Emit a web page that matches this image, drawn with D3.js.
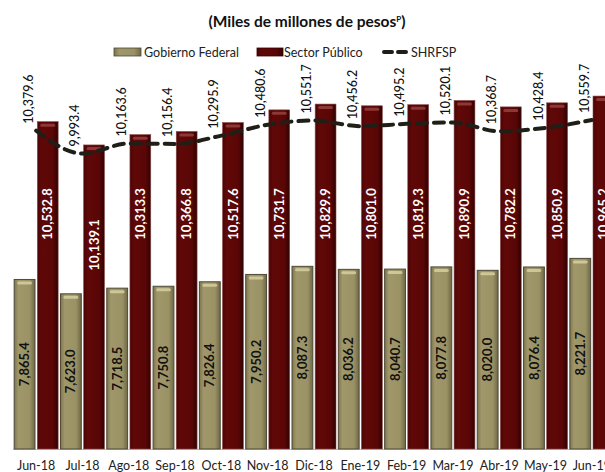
<!doctype HTML>
<html>
<head>
    <script src="https://d3js.org/d3.v7.min.js"></script>
    <style>
        body { margin: 0; background: #fff; }
        text { font-family: "Lato", "DejaVu Sans", sans-serif; }
    </style>
</head>
<body>
<script>
    var canvasWidth = 605;
    var canvasHeight = 472;

    var months = ["Jun-18", "Jul-18", "Ago-18", "Sep-18", "Oct-18", "Nov-18", "Dic-18",
                  "Ene-19", "Feb-19", "Mar-19", "Abr-19", "May-19", "Jun-19"];
    var gobierno = [7865.4, 7623.0, 7718.5, 7750.8, 7826.4, 7950.2, 8087.3,
                    8036.2, 8040.7, 8077.8, 8020.0, 8076.4, 8221.7];
    var sector = [10532.8, 10139.1, 10313.3, 10366.8, 10517.6, 10731.7, 10829.9,
                  10801.0, 10819.3, 10890.9, 10782.2, 10850.9, 10965.2];
    var shrfsp = [10379.6, 9993.4, 10163.6, 10156.4, 10295.9, 10480.6, 10551.7,
                  10456.2, 10495.2, 10520.1, 10368.7, 10428.4, 10559.7];

    var data = months.map(function(m, i) {
        return {month: m, gob: gobierno[i], sec: sector[i], sh: shrfsp[i]};
    });

    var svg = d3.select("body").append("svg")
        .attr("width", canvasWidth)
        .attr("height", canvasHeight);

    var defs = svg.append("defs");

    // cylinder-ish shading like the original bars
    var gGob = defs.append("linearGradient").attr("id", "gobFill");
    gGob.append("stop").attr("offset", "0%").attr("stop-color", "#7d7550");
    gGob.append("stop").attr("offset", "20%").attr("stop-color", "#a0976a");
    gGob.append("stop").attr("offset", "75%").attr("stop-color", "#9a9165");
    gGob.append("stop").attr("offset", "100%").attr("stop-color", "#6f6845");

    var gSec = defs.append("linearGradient").attr("id", "secFill");
    gSec.append("stop").attr("offset", "0%").attr("stop-color", "#4a0404");
    gSec.append("stop").attr("offset", "20%").attr("stop-color", "#600808");
    gSec.append("stop").attr("offset", "75%").attr("stop-color", "#5a0606");
    gSec.append("stop").attr("offset", "100%").attr("stop-color", "#2e0202");

    var baseY = 449;

    var xScale = d3.scaleBand()
        .domain(months)
        .range([13, 615])
        .padding(0);

    var xSub = d3.scaleBand()
        .domain(["gob", "sec"])
        .range([0, xScale.bandwidth()])
        .paddingInner(0.1)
        .paddingOuter(0.05);

    var yScale = d3.scaleLinear()
        .domain([5000, 11000])
        .range([baseY, 94]);

    var fmt = d3.format(",.1f");

    // title
    var title = svg.append("text")
        .attr("x", 307)
        .attr("y", 27)
        .attr("text-anchor", "middle")
        .attr("font-size", "15.5px")
        .attr("font-weight", "bold")
        .attr("fill", "#111");
    title.append("tspan").text("(Miles de millones de pesos");
    title.append("tspan").attr("font-size", "8px").attr("baseline-shift", "super").text("P");
    title.append("tspan").text(")");

    // legend
    var legend = svg.append("g").attr("font-size", "12.5px").attr("fill", "#222");
    legend.append("rect").attr("x", 114).attr("y", 48).attr("width", 27).attr("height", 8)
        .attr("fill", "url(#gobFill)").attr("stroke", "#4d4a38").attr("stroke-width", 0.8);
    legend.append("text").attr("x", 144).attr("y", 56.5).text("Gobierno Federal");
    legend.append("rect").attr("x", 257).attr("y", 48).attr("width", 26).attr("height", 8)
        .attr("fill", "url(#secFill)").attr("stroke", "#3a0202").attr("stroke-width", 0.8);
    legend.append("text").attr("x", 284).attr("y", 56.5).text("Sector Público");
    legend.append("line").attr("x1", 384).attr("x2", 406).attr("y1", 52).attr("y2", 52)
        .attr("stroke", "#1f1f18").attr("stroke-width", 4)
        .attr("stroke-dasharray", "8,6").attr("stroke-linecap", "round");
    legend.append("text").attr("x", 411).attr("y", 56.5).text("SHRFSP");

    // baseline
    svg.append("line")
        .attr("x1", 13).attr("x2", canvasWidth)
        .attr("y1", baseY + 0.5).attr("y2", baseY + 0.5)
        .attr("stroke", "#bfbfbf").attr("stroke-width", 1);

    var groups = svg.selectAll(".grp")
        .data(data)
        .enter().append("g")
        .attr("class", "grp")
        .attr("transform", function(d) { return "translate(" + xScale(d.month) + ",0)"; });

    // Gobierno Federal bars
    groups.append("rect")
        .attr("x", xSub("gob"))
        .attr("y", function(d) { return yScale(d.gob); })
        .attr("width", xSub.bandwidth())
        .attr("height", function(d) { return baseY - yScale(d.gob); })
        .attr("fill", "url(#gobFill)")
        .attr("stroke", "#4d4a38")
        .attr("stroke-width", 1);
    groups.append("rect")
        .attr("x", xSub("gob") + 3)
        .attr("y", function(d) { return yScale(d.gob) + 2; })
        .attr("width", xSub.bandwidth() - 6)
        .attr("height", 3)
        .attr("rx", 1.5)
        .attr("fill", "#d9d3a2")
        .attr("opacity", 0.8);

    // Sector Publico bars
    groups.append("rect")
        .attr("x", xSub("sec"))
        .attr("y", function(d) { return yScale(d.sec); })
        .attr("width", xSub.bandwidth())
        .attr("height", function(d) { return baseY - yScale(d.sec); })
        .attr("fill", "url(#secFill)")
        .attr("stroke", "#8a4a4a")
        .attr("stroke-width", 0.6);
    groups.append("rect")
        .attr("x", xSub("sec") + 3)
        .attr("y", function(d) { return yScale(d.sec) + 2; })
        .attr("width", xSub.bandwidth() - 6)
        .attr("height", 3)
        .attr("rx", 1.5)
        .attr("fill", "#9a4444")
        .attr("opacity", 0.8);

    // labels inside Gobierno bars (centred)
    groups.append("text")
        .attr("transform", function(d) {
            var cx = xSub("gob") + xSub.bandwidth() / 2;
            var cy = (yScale(d.gob) + baseY) / 2;
            return "translate(" + cx + "," + cy + ") rotate(-90)";
        })
        .attr("text-anchor", "middle")
        .attr("dy", "0.35em")
        .attr("font-size", "13px")
        .attr("font-weight", "bold")
        .attr("fill", "#111")
        .text(function(d) { return fmt(d.gob); });

    // labels inside Sector bars, Jul-18 sits lower in the original
    groups.append("text")
        .attr("transform", function(d) {
            var cx = xSub("sec") + xSub.bandwidth() / 2;
            var cy = d.month == "Jul-18" ? yScale(d.sec) + 100 : 214;
            return "translate(" + cx + "," + cy + ") rotate(-90)";
        })
        .attr("text-anchor", "middle")
        .attr("dy", "0.35em")
        .attr("font-size", "13px")
        .attr("font-weight", "bold")
        .attr("fill", "#fff")
        .text(function(d) { return fmt(d.sec); });

    // SHRFSP dashed line
    var line = d3.line()
        .x(function(d) { return xScale(d.month) + xScale.bandwidth() / 2; })
        .y(function(d) { return yScale(d.sh); })
        .curve(d3.curveMonotoneX);

    svg.append("path")
        .datum(data)
        .attr("d", line)
        .attr("fill", "none")
        .attr("stroke", "#1f1f18")
        .attr("stroke-width", 4)
        .attr("stroke-dasharray", "10,7")
        .attr("stroke-linecap", "round");

    svg.selectAll(".shLabel")
        .data(data)
        .enter().append("text")
        .attr("class", "shLabel")
        .attr("transform", function(d) {
            var cx = xScale(d.month) + xScale.bandwidth() / 2 - 3;
            var cy = yScale(d.sh) - 7;
            return "translate(" + cx + "," + cy + ") rotate(-90)";
        })
        .attr("font-size", "12.5px")
        .attr("font-weight", "500")
        .attr("fill", "#111")
        .text(function(d) { return fmt(d.sh); });

    // month labels
    svg.selectAll(".mLabel")
        .data(months)
        .enter().append("text")
        .attr("class", "mLabel")
        .attr("x", function(d) { return xScale(d) + xScale.bandwidth() / 2; })
        .attr("y", 470)
        .attr("text-anchor", "middle")
        .attr("font-size", "12.5px")
        .attr("fill", "#222")
        .text(function(d) { return d; });
</script>
</body>
</html>
